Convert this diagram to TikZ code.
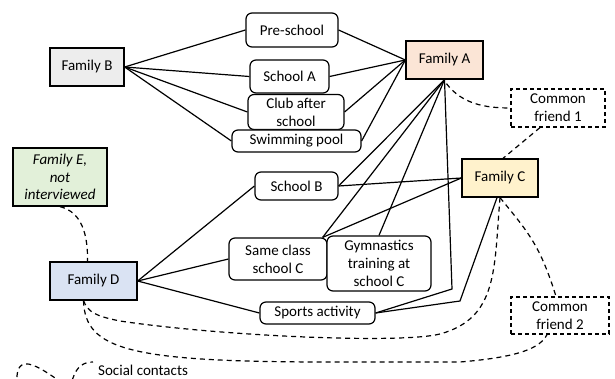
\documentclass[tikz,border=0pt]{standalone}
\usepackage{fontspec}
\setmainfont{Carlito}
\definecolor{famA}{HTML}{FBE5D6}
\definecolor{famB}{HTML}{EDEDED}
\definecolor{famC}{HTML}{FFF2CC}
\definecolor{famD}{HTML}{DAE3F3}
\definecolor{famE}{HTML}{E2F0D9}
\begin{document}
\begin{tikzpicture}[x=1pt,y=-1pt,
  every node/.style={font=\fontsize{15}{18}\selectfont, inner sep=0pt, align=center},
  fambox/.style={draw, line width=1.3pt},
  actbox/.style={draw, rounded corners=6pt, line width=1.2pt, fill=white},
  friendbox/.style={draw, line width=1.2pt, dash pattern=on 4pt off 3pt},
  link/.style={line width=1.2pt},
  social/.style={line width=1.2pt, dash pattern=on 5pt off 4pt}]
\useasboundingbox (0,0) rectangle (615,379);

% family nodes
\node[fambox, fill=famB, minimum width=74pt, minimum height=38pt] (B) at (87,67) {Family B};
\node[fambox, fill=famA, minimum width=77pt, minimum height=38pt] (A) at (444.5,60) {Family A};
\node[fambox, fill=famC, minimum width=76pt, minimum height=38pt] (C) at (500,178) {Family C};
\node[fambox, fill=famD, minimum width=87pt, minimum height=38pt] (D) at (93.5,281) {Family D};
\node[fambox, fill=famE, minimum width=94pt, minimum height=58pt, font=\fontsize{15}{17.5}\selectfont\itshape] (E) at (60,177) {Family E,\\not\\interviewed};

% friends
\node[friendbox, minimum width=94pt, minimum height=38pt] (F1) at (558,108) {Common\\friend 1};
\node[friendbox, minimum width=98pt, minimum height=37pt] (F2) at (560,315.5) {Common\\friend 2};

% activities
\node[actbox, minimum width=92pt, minimum height=34pt] (pre) at (292,30) {Pre-school};
\node[actbox, minimum width=79pt, minimum height=33pt] (schA) at (289.5,76.5) {School A};
\node[actbox, minimum width=96pt, minimum height=35pt] (club) at (296,112) {Club after\\school};
\node[actbox, minimum width=129pt, minimum height=22pt] (swim) at (296.5,141) {Swimming pool};
\node[actbox, minimum width=83pt, minimum height=28pt] (schB) at (296.5,186) {School B};
\node[actbox, minimum width=98pt, minimum height=42pt] (same) at (278,259) {Same class\\school C};
\node[actbox, minimum width=104pt, minimum height=55pt] (gym) at (379,263.5) {Gymnastics\\training at\\school C};
\node[actbox, minimum width=115pt, minimum height=22pt] (sport) at (317.5,313) {Sports activity};

\coordinate (a1) at (452,289);
\coordinate (c1) at (460,301);

% links
\foreach \t in {pre,schA,club,swim} {
  \draw[link] (B.east) -- (\t.west);
  \draw[link] (A.west) -- (\t.east);
}
\draw[link] (A.south) -- (schB.east);
\draw[link] (A.south) -- ([xshift=-5pt]same.north east);
\draw[link] (A.south) -- (gym.north);
\draw[link] (A.south) -- (a1) -- (sport.east);
\draw[link] (C.west) -- (schB.east);
\draw[link] (C.west) -- ([xshift=-5pt]same.north east);
\draw[link] ([xshift=-3pt]C.south) -- (c1) -- (sport.east);
\draw[link] (D.east) -- (schB.west);
\draw[link] (D.east) -- (same.west);
\draw[link] (D.east) -- (sport.west);

% social contacts
\draw[social] ([xshift=2pt,yshift=-4pt]A.south) .. controls (462,104) and (485,108) .. (F1.west);
\draw[social] ([xshift=-18pt]F1.south) -- ([xshift=3pt]C.north);
\draw[social] (E.south) .. controls (82,212) and (88,235) .. ([xshift=-6pt]D.north);
\draw[social] (C.south) .. controls (528,232) and (540,245) .. ([xshift=-4pt]F2.north);
\draw[social] (C.south) .. controls (494,270) and (498,318) .. (440,334)
   .. controls (400,344) and (220,336) .. (120,321)
   .. controls (95,316) and (88,312) .. ([xshift=-10pt]D.south);
\draw[social] ([xshift=-10pt]D.south) .. controls (85,350) and (130,362) .. (330,362)
   -- (460,362) .. controls (520,357) and (540,348) .. ([xshift=-13pt]F2.south);

% legend
\begin{scope}
\clip (0,0) rectangle (615,379);
\draw[social] (17,386) .. controls (15,356) and (28,358) .. (62,383)
   .. controls (66,386) and (70,386) .. (73,378) .. controls (77,366) and (84,362) .. (93,362);
\end{scope}
\node[anchor=base west] (leg) at (98,375) {Social contacts};
\end{tikzpicture}
\end{document}
